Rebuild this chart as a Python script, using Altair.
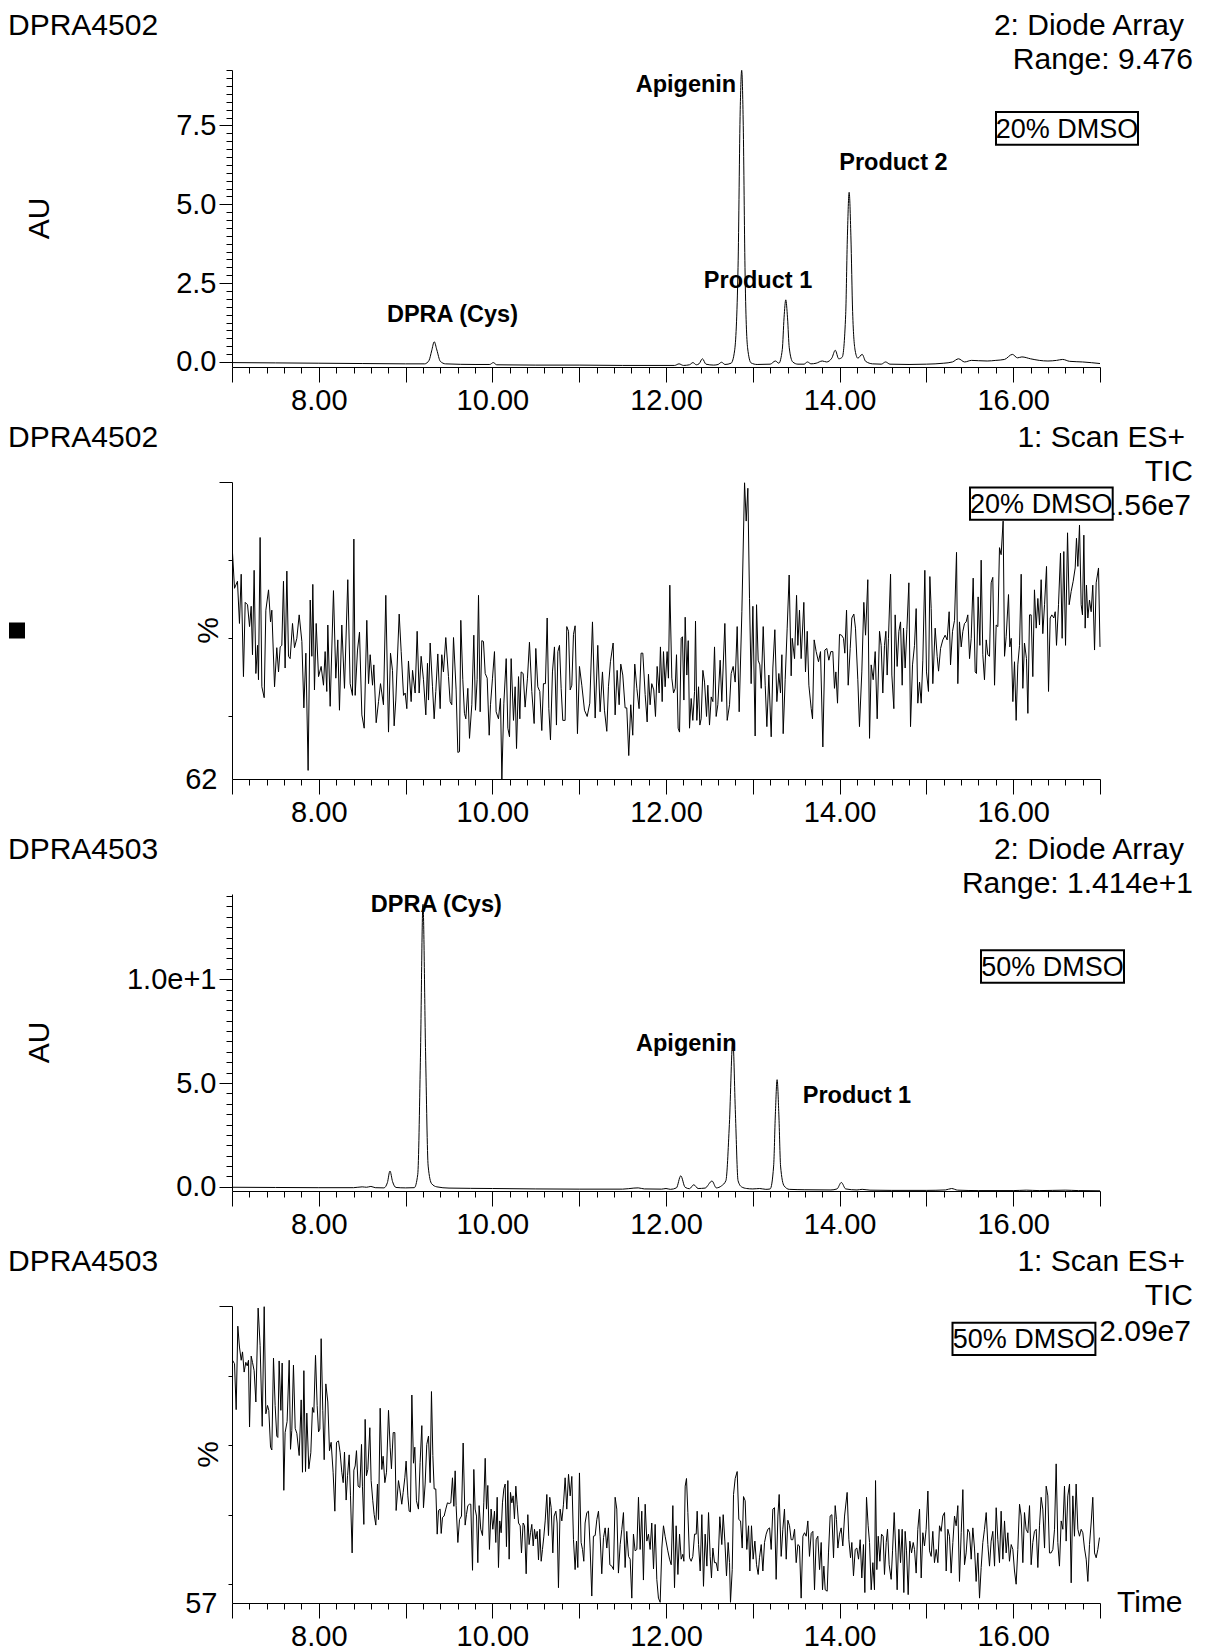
import altair as alt
import pandas as pd

FONT = "Liberation Sans"
W, H = 868, 297

# ---------------- data (time in min, signal) ----------------
DAD_4502 = [
    (7.00, -0.02), (7.50, -0.03), (8.00, -0.04), (8.50, -0.05), (9.00, -0.06), (9.22, -0.06),
    (9.27, 0.05), (9.30, 0.35), (9.33, 0.64), (9.36, 0.38), (9.40, 0.02), (9.46, -0.06),
    (9.80, -0.08), (9.97, -0.08), (10.01, -0.02), (10.05, -0.09), (10.50, -0.10), (11.00, -0.10),
    (11.50, -0.11), (12.00, -0.11), (12.10, -0.11), (12.15, -0.06), (12.20, -0.11), (12.27, -0.09),
    (12.31, -0.02), (12.35, -0.09), (12.38, -0.06), (12.42, 0.10), (12.46, -0.07), (12.55, -0.10),
    (12.60, -0.08), (12.64, -0.01), (12.68, -0.08), (12.75, -0.04), (12.79, 0.35), (12.83, 3.0),
    (12.855, 8.0), (12.872, 9.25), (12.89, 7.5), (12.91, 3.0), (12.94, 0.45), (12.98, -0.03),
    (13.05, -0.08), (13.20, -0.07), (13.26, 0.03), (13.30, -0.04), (13.34, 0.4), (13.36, 1.4),
    (13.38, 1.97), (13.40, 1.4), (13.42, 0.45), (13.46, 0.0), (13.52, -0.07), (13.59, -0.07),
    (13.63, 0.0), (13.67, -0.06), (13.73, -0.04), (13.80, 0.03), (13.85, 0.0), (13.91, 0.12),
    (13.95, 0.37), (13.99, 0.1), (14.03, 0.15), (14.07, 1.5), (14.09, 4.0), (14.11, 5.38),
    (14.13, 4.0), (14.15, 1.6), (14.18, 0.35), (14.21, 0.12), (14.26, 0.24), (14.30, 0.02),
    (14.38, -0.06), (14.48, -0.07), (14.53, 0.0), (14.58, -0.07), (14.80, -0.08), (15.00, -0.07),
    (15.20, -0.04), (15.30, 0.0), (15.37, 0.10), (15.44, 0.0), (15.52, 0.05), (15.60, 0.04),
    (15.70, 0.03), (15.80, 0.05), (15.90, 0.08), (15.99, 0.24), (16.05, 0.13), (16.10, 0.16),
    (16.20, 0.10), (16.30, 0.05), (16.40, 0.03), (16.50, 0.05), (16.57, 0.08), (16.65, 0.02),
    (16.80, 0.0), (17.00, -0.05),
]

DAD_4503 = [
    (7.00, -0.02), (7.50, -0.03), (8.00, -0.04), (8.40, -0.04), (8.50, 0.0), (8.55, -0.02),
    (8.60, 0.02), (8.65, -0.04), (8.75, -0.05), (8.79, 0.2), (8.82, 0.76), (8.85, 0.25),
    (8.89, -0.03), (9.00, -0.05), (9.10, -0.04), (9.14, 0.6), (9.17, 6.0), (9.20, 13.6),
    (9.23, 6.5), (9.26, 1.0), (9.30, 0.15), (9.36, 0.0), (9.50, -0.06), (10.00, -0.08),
    (10.50, -0.10), (11.00, -0.11), (11.50, -0.11), (11.63, -0.06), (11.68, -0.05), (11.75, -0.10),
    (11.95, -0.11), (12.00, -0.08), (12.05, -0.12), (12.12, -0.05), (12.17, 0.53), (12.22, -0.02),
    (12.27, -0.09), (12.32, 0.10), (12.37, -0.08), (12.45, -0.06), (12.53, 0.28), (12.58, -0.05),
    (12.64, 0.05), (12.69, 0.3), (12.73, 3.0), (12.77, 7.1), (12.80, 3.5), (12.83, 0.3),
    (12.87, 0.0), (12.93, -0.08), (13.00, -0.10), (13.08, -0.08), (13.15, -0.12), (13.20, -0.10),
    (13.24, 1.0), (13.26, 3.5), (13.28, 5.16), (13.30, 3.5), (13.32, 1.0), (13.36, 0.05),
    (13.42, -0.12), (13.60, -0.14), (13.90, -0.15), (13.97, -0.10), (14.02, 0.21), (14.07, -0.10),
    (14.20, -0.15), (14.26, -0.12), (14.35, -0.16), (14.60, -0.17), (15.00, -0.17), (15.22, -0.15),
    (15.29, -0.08), (15.36, -0.16), (15.60, -0.18), (16.00, -0.18), (16.15, -0.16), (16.30, -0.18),
    (16.60, -0.16), (16.75, -0.18), (17.00, -0.19),
]

TIC_4502 = [
    (7.006, 90.9), (7.029, 86.4), (7.063, 87.3), (7.086, 81.9), (7.106, 88.2), (7.132, 75.1),
    (7.152, 84.6), (7.179, 84.3), (7.202, 81.5), (7.221, 84.1), (7.236, 77.9), (7.255, 88.7),
    (7.275, 75.5), (7.294, 79.1), (7.305, 74.7), (7.324, 92.9), (7.344, 73.8), (7.371, 72.4),
    (7.390, 83.6), (7.421, 86.2), (7.444, 82.1), (7.459, 83.6), (7.490, 73.8), (7.516, 78.8),
    (7.536, 75.7), (7.555, 78.9), (7.574, 79.1), (7.593, 87.3), (7.612, 76.2), (7.632, 88.6),
    (7.651, 77.7), (7.670, 77.4), (7.697, 81.9), (7.720, 78.8), (7.747, 80.0), (7.774, 83.0),
    (7.805, 79.6), (7.828, 71.1), (7.851, 78.1), (7.877, 63.1), (7.901, 84.9), (7.920, 77.7),
    (7.931, 86.9), (7.950, 73.4), (7.970, 81.9), (7.997, 75.1), (8.027, 76.4), (8.054, 74.0),
    (8.073, 78.3), (8.092, 73.2), (8.104, 81.7), (8.131, 71.3), (8.169, 86.1), (8.196, 74.9),
    (8.219, 79.8), (8.238, 70.8), (8.265, 81.7), (8.296, 73.6), (8.334, 87.5), (8.361, 74.2),
    (8.388, 72.7), (8.404, 92.7), (8.419, 72.7), (8.446, 78.5), (8.469, 80.8), (8.496, 70.2),
    (8.523, 68.5), (8.553, 82.3), (8.573, 74.2), (8.592, 77.9), (8.619, 74.0), (8.634, 76.6),
    (8.661, 69.2), (8.688, 71.9), (8.711, 74.2), (8.745, 71.5), (8.772, 85.5), (8.803, 68.0),
    (8.826, 78.1), (8.849, 75.9), (8.868, 68.8), (8.887, 72.1), (8.926, 83.1), (8.949, 78.3),
    (8.976, 72.7), (8.995, 73.0), (9.014, 71.0), (9.033, 77.1), (9.064, 71.9), (9.080, 75.9),
    (9.110, 73.0), (9.133, 80.9), (9.156, 73.0), (9.179, 77.7), (9.206, 74.7), (9.233, 70.2),
    (9.252, 76.8), (9.264, 72.1), (9.283, 79.4), (9.310, 73.8), (9.329, 69.7), (9.348, 73.2),
    (9.371, 78.0), (9.398, 71.0), (9.417, 77.9), (9.436, 75.7), (9.463, 80.1), (9.494, 75.1),
    (9.513, 71.9), (9.532, 71.5), (9.552, 80.1), (9.582, 73.4), (9.602, 65.4), (9.621, 65.5),
    (9.636, 82.3), (9.659, 74.7), (9.678, 70.4), (9.694, 69.7), (9.717, 73.6), (9.736, 67.2),
    (9.763, 71.5), (9.786, 80.4), (9.805, 70.8), (9.824, 74.7), (9.840, 85.5), (9.859, 70.6),
    (9.878, 79.7), (9.897, 79.6), (9.917, 75.5), (9.940, 74.9), (9.963, 67.6), (9.978, 71.5),
    (10.001, 74.9), (10.024, 78.3), (10.043, 70.6), (10.070, 69.7), (10.093, 72.3), (10.109, 62.0),
    (10.132, 71.7), (10.159, 77.4), (10.178, 68.5), (10.197, 67.4), (10.216, 77.4), (10.243, 69.5),
    (10.262, 73.8), (10.278, 65.9), (10.301, 75.1), (10.316, 69.7), (10.331, 75.7), (10.354, 75.5),
    (10.377, 71.2), (10.404, 74.9), (10.427, 79.5), (10.454, 73.2), (10.481, 69.1), (10.500, 78.7),
    (10.523, 73.8), (10.546, 73.2), (10.569, 68.2), (10.588, 74.2), (10.611, 74.2), (10.631, 82.6),
    (10.650, 71.0), (10.669, 67.0), (10.692, 75.7), (10.715, 78.9), (10.738, 68.9), (10.754, 78.3),
    (10.773, 79.1), (10.792, 73.6), (10.811, 69.5), (10.838, 69.5), (10.857, 81.5), (10.877, 80.9),
    (10.896, 73.4), (10.915, 74.0), (10.934, 80.5), (10.953, 81.6), (10.980, 67.8), (11.003, 76.4),
    (11.030, 74.0), (11.061, 70.8), (11.092, 70.0), (11.122, 71.7), (11.153, 82.1), (11.184, 69.8),
    (11.214, 79.1), (11.241, 70.6), (11.268, 75.7), (11.291, 70.8), (11.318, 68.1), (11.337, 73.8),
    (11.360, 77.0), (11.391, 79.4), (11.414, 70.2), (11.437, 75.9), (11.460, 71.5), (11.479, 76.7),
    (11.502, 75.3), (11.529, 71.1), (11.548, 71.1), (11.571, 65.0), (11.594, 71.5), (11.617, 67.6),
    (11.640, 76.7), (11.664, 73.6), (11.690, 71.0), (11.713, 78.1), (11.733, 78.1), (11.760, 72.8),
    (11.783, 69.3), (11.798, 75.4), (11.817, 71.5), (11.836, 74.2), (11.859, 73.4), (11.879, 70.0),
    (11.898, 76.4), (11.921, 73.0), (11.936, 78.9), (11.956, 71.9), (11.971, 78.3), (11.990, 73.8),
    (12.013, 78.3), (12.028, 74.9),
    (12.044, 86.8), (12.067, 74.9), (12.087, 73.0), (12.106, 73.6), (12.121, 77.9), (12.140, 68.5),
    (12.156, 68.0), (12.175, 80.0), (12.190, 80.2), (12.206, 72.1), (12.221, 82.7), (12.240, 75.3),
    (12.256, 79.7), (12.271, 68.5), (12.290, 72.3), (12.309, 69.5), (12.329, 73.2), (12.340, 82.2),
    (12.355, 69.5), (12.375, 73.8), (12.390, 68.9), (12.405, 69.7), (12.425, 75.9), (12.444, 74.4),
    (12.467, 70.0), (12.482, 74.0), (12.501, 68.9), (12.521, 72.5), (12.540, 71.9), (12.559, 78.9),
    (12.578, 70.0), (12.597, 71.5), (12.624, 77.2), (12.643, 71.9), (12.678, 81.9), (12.705, 69.5),
    (12.732, 71.5), (12.751, 75.5), (12.774, 76.4), (12.797, 74.4), (12.820, 81.5), (12.843, 70.6),
    (12.874, 83.4), (12.905, 99.9), (12.924, 95.0), (12.943, 99.2), (12.962, 85.1), (12.981, 74.2),
    (13.001, 84.1), (13.027, 67.5), (13.043, 84.3), (13.062, 77.2), (13.081, 76.6), (13.097, 73.6),
    (13.120, 81.5), (13.143, 74.0), (13.162, 68.7), (13.185, 75.3), (13.212, 67.4), (13.231, 76.2),
    (13.254, 81.1), (13.277, 71.9), (13.300, 75.5), (13.319, 73.0), (13.335, 77.9), (13.350, 67.8),
    (13.373, 74.7), (13.396, 81.3), (13.419, 88.1), (13.442, 75.2), (13.454, 80.0), (13.481, 77.4),
    (13.504, 85.5), (13.519, 79.1), (13.538, 83.6), (13.557, 77.4), (13.588, 84.6), (13.607, 75.7),
    (13.627, 80.9), (13.646, 74.0), (13.673, 71.0), (13.688, 69.7), (13.707, 79.8), (13.730, 78.3),
    (13.757, 77.0), (13.780, 78.3), (13.807, 66.1), (13.830, 78.5), (13.853, 78.7), (13.876, 77.2),
    (13.899, 78.3), (13.922, 78.3), (13.941, 73.6), (13.957, 75.7), (13.976, 71.7), (13.999, 80.5),
    (14.022, 80.4), (14.045, 80.0), (14.060, 78.1), (14.080, 83.6), (14.099, 74.0), (14.122, 78.7),
    (14.141, 82.6), (14.164, 83.1), (14.183, 81.3), (14.210, 74.7), (14.229, 68.7), (14.256, 75.7),
    (14.279, 84.6), (14.299, 80.4), (14.325, 87.5), (14.345, 67.2), (14.364, 76.6), (14.387, 74.7),
    (14.410, 78.3), (14.433, 69.7), (14.460, 80.9), (14.479, 79.1), (14.498, 73.0), (14.517, 79.1),
    (14.533, 80.9), (14.548, 75.3), (14.563, 80.0), (14.587, 88.2), (14.602, 75.3), (14.625, 71.0),
    (14.640, 83.0), (14.663, 76.4), (14.683, 80.9), (14.702, 82.1), (14.721, 74.0), (14.736, 81.3),
    (14.755, 76.2), (14.775, 81.1), (14.798, 87.1), (14.817, 68.7), (14.840, 76.6), (14.863, 79.1),
    (14.882, 83.8), (14.901, 71.7), (14.921, 74.4), (14.940, 71.7), (14.959, 77.2), (14.982, 88.7),
    (15.001, 75.7), (15.024, 73.2), (15.040, 87.9), (15.055, 83.8), (15.074, 74.2), (15.101, 81.3),
    (15.124, 77.7), (15.140, 75.8), (15.163, 78.7), (15.189, 79.8), (15.216, 80.4), (15.239, 79.8),
    (15.262, 83.4), (15.278, 76.6), (15.301, 80.9), (15.324, 82.3), (15.347, 91.0), (15.362, 74.2),
    (15.381, 82.1), (15.401, 78.9), (15.420, 80.9), (15.439, 81.9), (15.458, 82.1), (15.477, 83.0),
    (15.497, 77.4), (15.516, 80.0), (15.539, 87.7), (15.562, 75.7), (15.577, 75.5), (15.596, 85.3),
    (15.616, 79.1), (15.631, 90.0), (15.650, 77.9), (15.669, 74.7), (15.689, 79.8), (15.708, 77.9),
    (15.727, 77.7), (15.746, 87.1), (15.765, 87.8), (15.785, 74.0), (15.804, 81.7), (15.823, 81.5),
    (15.842, 91.6), (15.861, 90.7), (15.884, 95.0), (15.900, 77.7), (15.919, 80.2), (15.946, 85.6),
    (15.961, 78.9), (15.977, 80.0), (15.996, 71.9), (16.015, 77.0), (16.034, 69.5), (16.053, 76.6),
    (16.073, 79.1), (16.092, 88.2), (16.111, 73.6), (16.130, 79.4), (16.153, 77.4), (16.169, 70.4),
    (16.188, 83.0), (16.207, 83.0), (16.226, 75.1), (16.245, 86.2), (16.265, 81.3), (16.284, 85.1),
    (16.303, 81.7), (16.322, 87.5), (16.341, 80.6), (16.361, 84.3), (16.384, 89.2), (16.407, 73.2),
    (16.426, 82.6), (16.445, 83.0), (16.468, 82.6), (16.484, 83.4), (16.499, 79.1), (16.522, 84.3),
    (16.545, 90.9), (16.564, 80.0), (16.583, 91.1), (16.603, 79.1), (16.626, 93.5), (16.645, 84.3),
    (16.668, 86.0), (16.691, 87.3), (16.714, 89.0), (16.729, 92.8), (16.745, 89.2), (16.764, 94.5),
    (16.783, 84.3), (16.798, 83.0), (16.814, 93.2), (16.829, 81.3), (16.844, 86.8), (16.860, 82.6),
    (16.879, 84.9), (16.898, 83.4), (16.917, 86.8), (16.937, 78.5), (16.956, 87.1), (16.983, 89.0),
    (17.000, 78.9),
]

TIC_4503 = [
    (7.006, 92.2), (7.029, 91.7), (7.048, 85.1), (7.067, 97.1), (7.086, 94.1), (7.106, 92.2),
    (7.121, 93.4), (7.140, 90.5), (7.159, 91.9), (7.175, 91.4), (7.190, 92.2), (7.202, 82.6),
    (7.221, 92.8), (7.236, 91.9), (7.255, 90.7), (7.275, 86.2), (7.301, 99.7), (7.324, 94.3),
    (7.348, 82.7), (7.371, 99.9), (7.390, 84.5), (7.409, 85.7), (7.424, 85.0), (7.444, 79.7),
    (7.459, 79.3), (7.478, 92.5), (7.497, 85.7), (7.516, 81.3), (7.528, 81.1), (7.543, 92.1),
    (7.563, 85.0), (7.578, 91.8), (7.597, 73.5), (7.612, 81.8), (7.635, 83.4), (7.659, 92.2),
    (7.674, 79.4), (7.689, 82.1), (7.708, 91.5), (7.728, 82.4), (7.747, 81.7), (7.774, 78.5),
    (7.797, 86.5), (7.812, 76.1), (7.828, 90.7), (7.847, 76.2), (7.862, 84.6), (7.885, 76.6),
    (7.908, 78.9), (7.927, 85.4), (7.943, 84.7), (7.962, 92.9), (7.981, 85.7), (7.997, 81.9),
    (8.012, 82.3), (8.027, 95.3), (8.046, 85.0), (8.062, 77.9), (8.081, 88.8), (8.104, 86.2),
    (8.123, 79.2), (8.142, 80.4), (8.165, 76.1), (8.185, 70.5), (8.204, 80.4), (8.227, 80.6),
    (8.246, 78.9), (8.265, 76.1), (8.281, 74.6), (8.296, 79.0), (8.315, 72.1), (8.331, 75.6),
    (8.350, 78.6), (8.365, 72.8), (8.384, 64.5), (8.404, 76.4), (8.419, 77.0), (8.434, 79.2),
    (8.453, 74.1), (8.473, 73.9), (8.492, 80.1), (8.503, 74.0), (8.519, 68.6), (8.534, 83.7),
    (8.549, 75.6), (8.565, 76.5), (8.588, 82.5), (8.603, 74.9), (8.622, 72.0), (8.638, 70.0),
    (8.657, 68.5), (8.676, 74.4), (8.688, 69.3), (8.707, 85.3), (8.726, 76.5), (8.741, 78.4),
    (8.761, 74.6), (8.780, 76.1), (8.803, 85.0), (8.822, 79.7), (8.837, 76.6), (8.857, 81.8),
    (8.876, 81.8), (8.891, 70.6), (8.918, 74.9), (8.933, 73.7), (8.956, 71.5), (8.972, 73.2),
    (8.991, 75.3), (9.006, 77.7), (9.026, 72.7), (9.041, 70.5), (9.056, 70.4), (9.072, 87.2),
    (9.091, 77.4), (9.106, 79.7), (9.125, 72.0), (9.148, 70.8), (9.167, 77.5), (9.187, 82.8),
    (9.206, 71.0), (9.225, 74.4), (9.244, 80.1), (9.264, 81.3), (9.283, 74.6), (9.298, 87.7),
    (9.314, 78.5), (9.329, 73.7), (9.348, 73.7), (9.364, 67.2), (9.379, 70.6), (9.398, 70.8),
    (9.410, 67.3), (9.425, 69.6), (9.444, 69.8), (9.463, 70.8), (9.482, 71.7), (9.502, 71.6),
    (9.521, 71.7), (9.540, 75.3), (9.556, 71.2), (9.571, 76.3), (9.582, 71.3), (9.602, 66.0),
    (9.621, 69.3), (9.644, 69.8), (9.663, 80.3), (9.686, 68.5), (9.701, 70.0), (9.717, 71.3),
    (9.736, 71.5), (9.751, 71.5), (9.771, 62.0), (9.786, 76.5), (9.801, 70.8), (9.817, 69.8),
    (9.832, 63.1), (9.847, 71.3), (9.866, 67.9), (9.886, 67.0), (9.901, 71.7), (9.917, 78.1),
    (9.932, 70.8), (9.947, 74.2), (9.966, 65.0), (9.985, 70.8), (10.005, 67.9), (10.024, 70.5),
    (10.039, 66.0), (10.055, 72.5), (10.070, 62.4), (10.085, 69.1), (10.101, 67.4), (10.116, 71.7),
    (10.132, 73.7), (10.147, 74.4), (10.162, 65.4), (10.178, 74.9), (10.193, 63.6), (10.208, 73.2),
    (10.224, 71.7), (10.239, 72.7), (10.254, 69.4), (10.270, 74.1), (10.285, 71.5), (10.301, 68.8),
    (10.320, 68.4), (10.335, 64.5), (10.354, 68.8), (10.370, 68.4), (10.389, 61.5), (10.408, 70.0),
    (10.423, 65.7), (10.439, 67.4), (10.454, 68.6), (10.470, 65.5), (10.485, 67.9), (10.500, 66.5),
    (10.516, 67.6), (10.531, 63.5), (10.546, 67.9), (10.562, 63.3), (10.577, 65.0), (10.592, 66.8),
    (10.608, 69.1), (10.627, 72.9), (10.646, 67.0), (10.661, 72.5), (10.677, 71.0), (10.696, 64.5),
    (10.711, 69.8), (10.731, 70.5), (10.746, 68.8), (10.761, 59.5), (10.780, 70.8), (10.800, 69.1),
    (10.819, 71.5), (10.838, 75.3), (10.857, 70.8), (10.877, 75.8), (10.896, 72.7), (10.915, 75.5),
    (10.934, 66.4), (10.953, 62.1), (10.969, 66.2), (10.984, 62.4), (11.003, 76.0), (11.022, 66.0),
    (11.038, 65.0), (11.053, 63.3), (11.068, 68.8), (11.088, 70.3), (11.107, 70.5), (11.126, 65.2),
    (11.145, 58.3), (11.164, 66.9), (11.184, 67.0), (11.203, 69.3), (11.222, 70.5), (11.241, 66.9),
    (11.260, 61.5), (11.280, 66.7), (11.299, 68.1), (11.318, 65.2), (11.337, 68.1), (11.353, 62.8),
    (11.376, 62.6), (11.395, 62.1), (11.414, 72.5), (11.433, 70.8), (11.452, 61.6), (11.472, 65.7),
    (11.491, 67.9), (11.510, 70.3), (11.529, 62.4), (11.548, 67.6), (11.568, 64.0), (11.587, 63.6),
    (11.606, 58.0), (11.625, 67.2), (11.644, 64.8), (11.664, 65.0), (11.683, 72.5), (11.702, 65.0),
    (11.721, 70.5), (11.740, 60.6), (11.760, 71.5), (11.779, 66.2), (11.798, 67.2), (11.817, 65.0),
    (11.836, 68.8), (11.856, 62.2), (11.875, 68.6), (11.894, 60.7), (11.913, 58.0), (11.933, 57.4),
    (11.952, 65.2), (11.971, 68.4), (11.990, 66.9), (12.021, 64.8),
    (12.041, 63.6), (12.060, 62.8), (12.079, 71.3), (12.098, 59.5), (12.117, 68.4), (12.137, 61.4),
    (12.156, 67.2), (12.175, 63.6), (12.194, 64.3), (12.206, 63.3), (12.221, 74.1), (12.236, 75.2),
    (12.252, 70.3), (12.271, 63.8), (12.290, 63.3), (12.309, 64.0), (12.329, 67.2), (12.348, 67.2),
    (12.359, 70.5), (12.375, 65.7), (12.394, 61.9), (12.413, 70.0), (12.432, 59.7), (12.451, 67.2),
    (12.471, 62.6), (12.490, 70.3), (12.509, 64.0), (12.524, 60.9), (12.540, 65.2), (12.559, 63.1),
    (12.578, 63.1), (12.597, 61.9), (12.620, 69.7), (12.643, 65.7), (12.659, 70.0), (12.678, 66.2),
    (12.697, 61.2), (12.716, 66.0), (12.732, 63.1), (12.743, 57.4), (12.763, 62.1), (12.778, 72.9),
    (12.797, 75.2), (12.820, 76.2), (12.839, 69.3), (12.859, 69.1), (12.878, 65.2), (12.893, 72.6),
    (12.912, 72.0), (12.931, 65.0), (12.951, 68.4), (12.966, 61.9), (12.985, 68.4), (13.004, 63.6),
    (13.024, 66.2), (13.043, 62.8), (13.062, 61.4), (13.077, 63.8), (13.097, 65.7), (13.116, 61.9),
    (13.135, 66.0), (13.154, 67.2), (13.173, 67.9), (13.193, 68.1), (13.212, 65.0), (13.231, 70.8),
    (13.250, 71.0), (13.269, 60.7), (13.289, 69.8), (13.304, 72.9), (13.327, 64.0), (13.346, 67.9),
    (13.365, 70.8), (13.385, 63.6), (13.404, 69.2), (13.423, 68.4), (13.442, 66.4), (13.461, 66.4),
    (13.481, 67.9), (13.500, 63.1), (13.519, 65.7), (13.538, 65.5), (13.557, 58.0), (13.577, 66.9),
    (13.596, 67.4), (13.615, 66.9), (13.634, 69.1), (13.653, 64.0), (13.673, 67.3), (13.692, 67.6),
    (13.711, 59.2), (13.730, 66.4), (13.749, 66.9), (13.769, 62.1), (13.788, 66.0), (13.803, 59.2),
    (13.819, 62.6), (13.834, 59.2), (13.857, 59.0), (13.872, 64.5), (13.891, 69.8), (13.911, 70.0),
    (13.930, 63.8), (13.949, 71.3), (13.964, 69.3), (13.980, 65.2), (13.999, 67.2), (14.018, 68.1),
    (14.037, 65.5), (14.057, 69.8), (14.087, 73.2), (14.107, 66.4), (14.126, 63.8), (14.141, 66.0),
    (14.160, 61.2), (14.180, 65.0), (14.199, 65.2), (14.218, 63.6), (14.237, 66.4), (14.256, 60.9),
    (14.275, 65.7), (14.291, 58.8), (14.310, 72.5), (14.329, 68.4), (14.345, 66.0), (14.364, 59.2),
    (14.383, 63.1), (14.402, 59.2), (14.414, 74.9), (14.429, 62.1), (14.445, 66.9), (14.464, 63.3),
    (14.483, 67.2), (14.502, 66.9), (14.517, 61.4), (14.537, 66.0), (14.552, 67.9), (14.571, 62.8),
    (14.594, 60.7), (14.610, 64.8), (14.629, 70.3), (14.648, 64.5), (14.663, 59.2), (14.683, 67.9),
    (14.702, 63.1), (14.721, 67.9), (14.740, 58.8), (14.755, 67.6), (14.771, 64.8), (14.790, 58.5),
    (14.809, 66.2), (14.829, 64.5), (14.848, 66.0), (14.863, 65.0), (14.882, 61.6), (14.901, 67.9),
    (14.921, 70.8), (14.940, 60.9), (14.959, 67.4), (14.978, 65.5), (14.997, 67.9), (15.017, 73.4),
    (15.036, 64.8), (15.055, 64.0), (15.074, 67.6), (15.093, 63.1), (15.113, 65.0), (15.132, 63.1),
    (15.151, 68.4), (15.170, 67.6), (15.189, 69.8), (15.209, 70.3), (15.228, 61.9), (15.247, 67.9),
    (15.266, 66.9), (15.285, 61.6), (15.305, 66.0), (15.324, 69.8), (15.343, 68.4), (15.362, 71.3),
    (15.381, 60.4), (15.401, 67.4), (15.420, 73.6), (15.439, 62.8), (15.458, 64.5), (15.477, 67.9),
    (15.497, 67.4), (15.516, 63.6), (15.535, 68.1), (15.554, 65.2), (15.573, 60.4), (15.593, 64.5),
    (15.612, 58.0), (15.631, 62.4), (15.650, 66.0), (15.669, 67.9), (15.689, 70.3), (15.708, 65.7),
    (15.727, 62.6), (15.746, 66.2), (15.765, 67.6), (15.785, 62.6), (15.804, 71.0), (15.823, 66.4),
    (15.842, 63.1), (15.861, 70.5), (15.881, 63.6), (15.900, 69.1), (15.919, 64.5), (15.938, 67.4),
    (15.957, 63.3), (15.977, 65.7), (15.996, 65.0), (16.015, 61.9), (16.034, 60.0), (16.053, 65.0),
    (16.073, 71.5), (16.092, 69.8), (16.111, 63.1), (16.130, 70.3), (16.149, 67.9), (16.169, 67.4),
    (16.188, 71.3), (16.207, 62.8), (16.226, 66.0), (16.245, 67.6), (16.265, 67.9), (16.284, 62.4),
    (16.303, 68.4), (16.322, 72.5), (16.341, 70.8), (16.361, 65.2), (16.380, 74.1), (16.399, 72.7),
    (16.418, 64.5), (16.437, 64.5), (16.457, 65.0), (16.476, 67.9), (16.495, 77.3), (16.514, 66.0),
    (16.533, 62.6), (16.553, 69.1), (16.572, 67.9), (16.591, 74.1), (16.610, 66.2), (16.629, 72.7),
    (16.649, 74.4), (16.668, 60.2), (16.687, 72.7), (16.706, 66.9), (16.725, 74.4), (16.745, 67.9),
    (16.764, 66.9), (16.783, 67.9), (16.802, 67.4), (16.821, 65.2), (16.841, 63.6), (16.860, 60.4),
    (16.879, 65.7), (16.898, 68.8), (16.917, 72.5), (16.937, 64.5), (16.956, 63.8), (16.975, 65.0),
    (16.994, 66.7),
]

# peak annotations (time, AU)
PEAKS_4502 = ["DPRA (Cys)", "Apigenin", "Product 1", "Product 2"]
PEAK_T_4502 = [9.54, 12.23, 13.06, 14.62]
PEAK_AU_4502 = [1.49, 8.78, 2.58, 6.32]
PEAKS_4503 = ["DPRA (Cys)", "Apigenin", "Product 1"]
PEAK_T_4503 = [9.354, 12.234, 14.20]
PEAK_AU_4503 = [13.56, 6.87, 4.37]

# axis ticks
X_MAJOR = [7, 8, 9, 10, 11, 12, 13, 14, 15, 16, 17]
X_MINOR = [round(7 + 0.2 * i, 1) for i in range(51) if i % 5]
Y1_MAJOR = [0, 2.5, 5, 7.5]
Y1_MINOR = [round(0.25 * i, 2) for i in range(1, 38) if i % 10]
Y3_MAJOR = [0, 5, 10]
Y3_MINOR = [round(0.5 * i, 1) for i in range(1, 29) if i % 10]
Y2_MAJOR = [62, 100]
Y2_MINOR = [70, 80, 90]
Y4_MAJOR = [57.3, 100]
Y4_MINOR = [60, 70, 80, 90]


def axis_x_major():
    return alt.Axis(orient="bottom", values=X_MAJOR, tickSize=15, tickWidth=1, tickColor="black",
                    domain=True, domainColor="black", domainWidth=1, grid=False, title=None,
                    labelExpr="datum.value % 2 === 0 ? format(datum.value, '.2f') : ''",
                    labelFont=FONT, labelFontSize=29, labelColor="black", labelPadding=4,
                    labelOverlap=False, labelFlush=False, labelBound=False)


def axis_x_minor():
    return alt.Axis(orient="bottom", values=X_MINOR, tickSize=6, tickWidth=1, tickColor="black",
                    domain=False, grid=False, labels=False, title=None)


def axis_y_major(values, expr, size, pad, hide_test=None):
    kw = dict(orient="left", values=values, tickSize=size, tickWidth=1, tickColor="black",
              domain=True, domainColor="black", domainWidth=1, grid=False, title=None,
              labelExpr=expr, labelFont=FONT, labelFontSize=29, labelColor="black",
              labelPadding=pad, labelOverlap=False, labelFlush=False, labelBound=False)
    if hide_test:
        kw["tickOpacity"] = {"condition": {"test": hide_test, "value": 0}, "value": 1}
    return alt.Axis(**kw)


def axis_y_minor(values, size):
    return alt.Axis(orient="left", values=values, tickSize=size, tickWidth=1, tickColor="black",
                    domain=False, grid=False, labels=False, title=None)


def txt(s, x, y, align="left", size=30, weight="normal", angle=0):
    return alt.Chart(pd.DataFrame({"s": [s]})).mark_text(
        align=align, baseline="middle", font=FONT, fontSize=size, fontWeight=weight,
        color="black", angle=angle).encode(x=alt.value(x), y=alt.value(y), text="s:N")


def box(s, x1, x2, y1, y2, size=27):
    r = alt.Chart(pd.DataFrame({"s": [s]})).mark_rect(
        fill="white", stroke="black", strokeWidth=2).encode(
        x=alt.value(x1), x2=alt.value(x2), y=alt.value(y1), y2=alt.value(y2))
    return [r, txt(s, (x1 + x2) / 2, (y1 + y2) / 2 + 1.5, align="center", size=size)]


def panel(points, ydom, ymaj, yexpr, ymaj_size, ypad, ymin, ymin_size, extras,
          interp="linear", hide_test=None, peaks=None):
    xs = alt.Scale(domain=[7, 17], nice=False, zero=False)
    ys = alt.Scale(domain=ydom, nice=False, zero=False)
    df = pd.DataFrame(points, columns=["t", "v"])
    line = alt.Chart(df).mark_line(color="black", strokeWidth=1, interpolate=interp).encode(
        x=alt.X("t:Q", scale=xs, axis=axis_x_major()),
        y=alt.Y("v:Q", scale=ys, axis=axis_y_major(ymaj, yexpr, ymaj_size, ypad, hide_test)),
    )
    minor = alt.Chart(pd.DataFrame({"t": [7.0], "v": [ydom[0]]})).mark_point(opacity=0).encode(
        x=alt.X("t:Q", scale=xs, axis=axis_x_minor()),
        y=alt.Y("v:Q", scale=ys, axis=axis_y_minor(ymin, ymin_size)),
    )
    layers = [line, minor]
    if peaks is not None:
        names, pt, pv = peaks
        pdf = pd.DataFrame({"name": names, "t": pt, "v": pv})
        layers.append(alt.Chart(pdf).mark_text(
            font=FONT, fontSize=23.5, fontWeight="bold", color="black",
            align="center", baseline="middle").encode(
            x=alt.X("t:Q", scale=xs, axis=None),
            y=alt.Y("v:Q", scale=ys, axis=None),
            text="name:N"))
    layers += extras
    return alt.layer(*layers).resolve_axis(x="independent", y="independent").properties(
        width=W, height=H)


L1, L2 = -44, -10

p1 = panel(
    DAD_4502, [-0.16, 9.26], Y1_MAJOR, "format(datum.value, '.1f')", 13, 3, Y1_MINOR, 6,
    [txt("DPRA4502", -224, L1), txt("2: Diode Array", 952, L1, "right"),
     txt("Range: 9.476", 961, L2, "right"), txt("AU", -192, H / 2, "center", angle=270)]
    + box("20% DMSO", 764, 906, 42, 74.7),
    interp="monotone", peaks=(PEAKS_4502, PEAK_T_4502, PEAK_AU_4502))

p2 = panel(
    TIC_4502, [62, 100], Y2_MAJOR, "datum.value === 62 ? '62' : ''", 13, 2, Y2_MINOR, 4,
    [txt("DPRA4502", -224, L1), txt("1: Scan ES+", 953, L1, "right"),
     txt("TIC", 961, L2, "right"), txt("1.56e7", 959, 24, "right"),
     txt("%", -23, H / 2, "center", angle=270),
     alt.Chart(pd.DataFrame({"s": ["sq"]})).mark_square(size=256, color="black", opacity=1).encode(
         x=alt.value(-215), y=alt.value(H / 2))]
    + box("20% DMSO", 738, 880.7, 5.5, 37.8),
    hide_test="datum.value === 62")

p3 = panel(
    DAD_4503, [-0.2, 14.1], Y3_MAJOR,
    "datum.value === 10 ? '1.0e+1' : format(datum.value, '.1f')", 13, 3, Y3_MINOR, 6,
    [txt("DPRA4503", -224, L1), txt("2: Diode Array", 952, L1, "right"),
     txt("Range: 1.414e+1", 961, L2, "right"), txt("AU", -192, H / 2, "center", angle=270)]
    + box("50% DMSO", 749, 892, 56.3, 88.7),
    interp="monotone", peaks=(PEAKS_4503, PEAK_T_4503, PEAK_AU_4503))

p4 = panel(
    TIC_4503, [57.3, 100], Y4_MAJOR, "datum.value < 60 ? '57' : ''", 13, 2, Y4_MINOR, 4,
    [txt("DPRA4503", -224, L1), txt("1: Scan ES+", 953, L1, "right"),
     txt("TIC", 961, L2, "right"), txt("2.09e7", 959, 26, "right"),
     txt("%", -23, H / 2, "center", angle=270), txt("Time", 885, H, "left")]
    + box("50% DMSO", 720.5, 863.4, 16.7, 49),
    hide_test="datum.value < 60")

chart = alt.vconcat(p1, p2, p3, p4, spacing=115, bounds="flush").properties(
    padding={"left": 0, "top": 3, "right": 0, "bottom": 0}).configure_view(stroke=None)

chart.save("out.html", embed_options={"renderer": "svg", "actions": False})
